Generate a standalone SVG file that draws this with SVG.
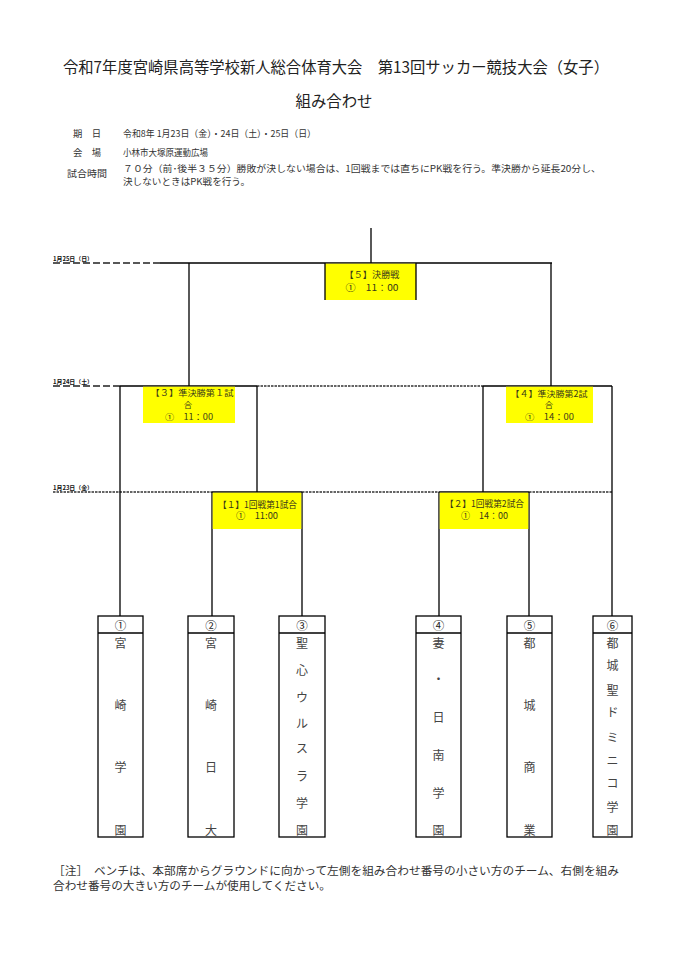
<svg xmlns="http://www.w3.org/2000/svg" width="684" height="978" viewBox="0 0 684 978">
<style>
text{font-family:"Noto Sans CJK JP","Noto Sans",sans-serif;fill:#222}
.title{font-size:15.4px}
.info{font-size:9.2px;fill:#333}
.date{font-size:5.5px;font-weight:bold;fill:#111}
.mt{font-size:9px;fill:#3a3a1a;text-anchor:middle}
.ms{font-size:8.4px;fill:#3a3a1a;text-anchor:middle}
.num{font-size:11.5px;text-anchor:middle;fill:#222}
.nm{font-size:12px;text-anchor:middle;fill:#444}
.note{font-size:11.5px;fill:#333}
.ln{stroke:#000;stroke-width:1.3;fill:none}
.dash{stroke:#222;stroke-width:1.3;stroke-dasharray:7 3;fill:none}
.dot{stroke:#333;stroke-width:1.6;stroke-dasharray:2.5 1;fill:none}
.ybox{fill:#ffff00}
.team{fill:#fff;stroke:#000;stroke-width:1.3}
</style>
<rect width="684" height="978" fill="#fff"/>
<g id="header">
<text class="title" x="63" y="72.5" textLength="546" lengthAdjust="spacingAndGlyphs">令和7年度宮崎県高等学校新人総合体育大会　第13回サッカー競技大会（女子）</text>
<text class="title" x="334" y="107" text-anchor="middle" font-size="15">組み合わせ</text>
<text class="info" x="73" y="136.5" textLength="28" lengthAdjust="spacingAndGlyphs">期　日</text>
<text class="info" x="123" y="136.5" textLength="193" lengthAdjust="spacingAndGlyphs">令和8年 1月23日（金）・24日（土）・25日（日）</text>
<text class="info" x="73" y="155.5" textLength="28" lengthAdjust="spacingAndGlyphs">会　場</text>
<text class="info" x="123" y="155.5" textLength="85" lengthAdjust="spacingAndGlyphs">小林市大塚原運動広場</text>
<text class="info" x="67" y="176.5" textLength="40" lengthAdjust="spacingAndGlyphs">試合時間</text>
<text class="info" x="123" y="172" textLength="478" lengthAdjust="spacingAndGlyphs">７０分（前･後半３５分）勝敗が決しない場合は、1回戦までは直ちにPK戦を行う。準決勝から延長20分し、</text>
<text class="info" x="123" y="184.5" textLength="127" lengthAdjust="spacingAndGlyphs">決しないときはPK戦を行う。</text>
</g>
<g id="date-labels">
<text class="date" x="53" y="261" textLength="40" lengthAdjust="spacingAndGlyphs">1月25日（日）</text>
<text class="date" x="53" y="384" textLength="40" lengthAdjust="spacingAndGlyphs">1月24日（土）</text>
<text class="date" x="53" y="490" textLength="40" lengthAdjust="spacingAndGlyphs">1月23日（金）</text>
</g>
<g id="connectors">
<path class="dash" d="M53 263H160M53 386H120"/>
<path class="dot" d="M257 386H483M53 492H212M302 492H439M529 492H612"/>
<path class="ln" d="M371 228V263M160 263H552M189 263V386M551 263V386M120 386H257M483 386H612M120 386V616M257 386V492M483 386V492M612 386V616M212 492H302M212 492V616M302 492V616M439 492H529M439 492V616M529 492V616"/>
</g>
<g id="match5">
<rect class="ybox" x="325" y="263.7" width="91" height="36.3"/>
<path class="ln" d="M325 263V300M416 263V300"/>
<text class="mt" x="372" y="277.5" textLength="55" lengthAdjust="spacingAndGlyphs">【５】決勝戦</text>
<text class="mt" x="372" y="291" textLength="53" lengthAdjust="spacingAndGlyphs">①　11：00</text>
</g>
<g id="match3">
<rect class="ybox" x="143" y="386.7" width="92" height="36.3"/>
<text class="ms" x="192" y="396.3" textLength="83" lengthAdjust="spacingAndGlyphs">【３】準決勝第１試</text>
<text class="ms" x="188" y="407.8">合</text>
<text class="ms" x="189" y="420" textLength="48" lengthAdjust="spacingAndGlyphs">①　11：00</text>
</g>
<g id="match4">
<rect class="ybox" x="506" y="386.7" width="87" height="36.3"/>
<text class="ms" x="549" y="396.6" textLength="77" lengthAdjust="spacingAndGlyphs">【４】準決勝第2試</text>
<text class="ms" x="549" y="407.8">合</text>
<text class="ms" x="549.5" y="420.2" textLength="49" lengthAdjust="spacingAndGlyphs">①　14：00</text>
</g>
<g id="match1">
<rect class="ybox" x="212.7" y="492.7" width="88.6" height="36.3"/>
<text class="mt" x="257.5" y="507.7" textLength="79" lengthAdjust="spacingAndGlyphs">【１】1回戦第1試合</text>
<text class="mt" x="257" y="519" textLength="42" lengthAdjust="spacingAndGlyphs">①　11:00</text>
</g>
<g id="match2">
<rect class="ybox" x="439.7" y="492.7" width="88.6" height="36.3"/>
<text class="mt" x="484.5" y="507.4" textLength="79" lengthAdjust="spacingAndGlyphs">【２】1回戦第2試合</text>
<text class="mt" x="484.5" y="519.4" textLength="47" lengthAdjust="spacingAndGlyphs">①　14：00</text>
</g>
<g id="team1">
<rect class="team" x="98" y="616" width="45" height="221"/>
<path class="ln" d="M98 633H143"/>
<text class="num" x="120.5" y="629.5">①</text>
<text class="nm" x="120.5" y="647.5">宮</text>
<text class="nm" x="120.5" y="709.5">崎</text>
<text class="nm" x="120.5" y="772">学</text>
<text class="nm" x="120.5" y="834.5">園</text>
</g>
<g id="team2">
<rect class="team" x="188" y="616" width="46" height="221"/>
<path class="ln" d="M188 633H234"/>
<text class="num" x="211" y="629.5">②</text>
<text class="nm" x="211" y="647.5">宮</text>
<text class="nm" x="211" y="709.5">崎</text>
<text class="nm" x="211" y="772">日</text>
<text class="nm" x="211" y="834.5">大</text>
</g>
<g id="team3">
<rect class="team" x="279" y="616" width="46" height="221"/>
<path class="ln" d="M279 633H325"/>
<text class="num" x="302" y="629.5">③</text>
<text class="nm" x="302" y="647.5">聖</text>
<text class="nm" x="302" y="674.5">心</text>
<text class="nm" x="302" y="701.5">ウ</text>
<text class="nm" x="302" y="727.5">ル</text>
<text class="nm" x="302" y="753">ス</text>
<text class="nm" x="302" y="780.5">ラ</text>
<text class="nm" x="302" y="807.5">学</text>
<text class="nm" x="302" y="834.5">園</text>
</g>
<g id="team4">
<rect class="team" x="416" y="616" width="45" height="221"/>
<path class="ln" d="M416 633H461"/>
<text class="num" x="438.5" y="629.5">④</text>
<text class="nm" x="438.5" y="647.5">妻</text>
<text class="nm" x="438.5" y="683.5">・</text>
<text class="nm" x="438.5" y="721.5">日</text>
<text class="nm" x="438.5" y="759.5">南</text>
<text class="nm" x="438.5" y="797.5">学</text>
<text class="nm" x="438.5" y="834.5">園</text>
</g>
<g id="team5">
<rect class="team" x="507" y="616" width="45" height="221"/>
<path class="ln" d="M507 633H552"/>
<text class="num" x="529.5" y="629.5">⑤</text>
<text class="nm" x="529.5" y="647.5">都</text>
<text class="nm" x="529.5" y="709.5">城</text>
<text class="nm" x="529.5" y="772">商</text>
<text class="nm" x="529.5" y="834.5">業</text>
</g>
<g id="team6">
<rect class="team" x="593" y="616" width="39" height="221"/>
<path class="ln" d="M593 633H632"/>
<text class="num" x="612.5" y="629.5">⑥</text>
<text class="nm" x="612.5" y="647.5">都</text>
<text class="nm" x="612.5" y="669.5">城</text>
<text class="nm" x="612.5" y="694.5">聖</text>
<text class="nm" x="612.5" y="716.5">ド</text>
<text class="nm" x="612.5" y="741.5">ミ</text>
<text class="nm" x="612.5" y="764.5">ニ</text>
<text class="nm" x="612.5" y="787.5">コ</text>
<text class="nm" x="612.5" y="811.5">学</text>
<text class="nm" x="612.5" y="834.5">園</text>
</g>
<g id="note">
<text class="note" x="53" y="875" textLength="566" lengthAdjust="spacingAndGlyphs">［注］　ベンチは、本部席からグラウンドに向かって左側を組み合わせ番号の小さい方のチーム、右側を組み</text>
<text class="note" x="53" y="889.5" textLength="278" lengthAdjust="spacingAndGlyphs">合わせ番号の大きい方のチームが使用してください。</text>
</g>
</svg>
